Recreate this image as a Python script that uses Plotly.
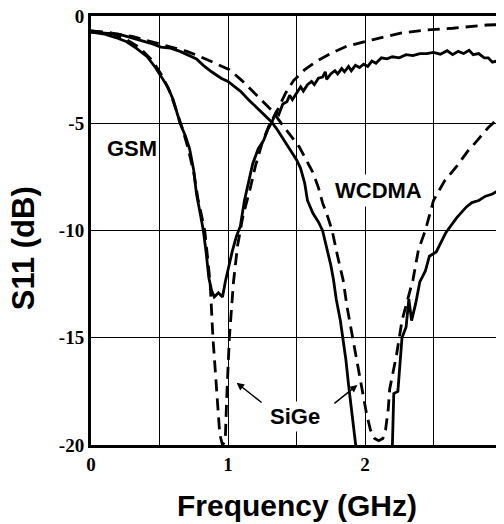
import plotly.graph_objects as go

# GSM, measured (solid)
gsm_meas_f = [0.00, 0.10, 0.20, 0.26, 0.33, 0.41, 0.47, 0.51, 0.56, 0.60, 0.63, 0.65, 0.69, 0.72, 0.75,
              0.77, 0.80, 0.82, 0.84, 0.86, 0.88, 0.90, 0.93, 0.96, 0.98, 1.00, 1.03, 1.06, 1.09, 1.12,
              1.14, 1.18, 1.22, 1.26, 1.29, 1.32, 1.35, 1.37, 1.40, 1.43, 1.45, 1.47, 1.50, 1.53, 1.55,
              1.58, 1.61, 1.63, 1.66, 1.69, 1.71, 1.72, 1.75, 1.78, 1.80, 1.83, 1.85, 1.88, 1.90, 1.93,
              1.96, 1.99, 2.02, 2.05, 2.08, 2.12, 2.16, 2.20, 2.25, 2.30, 2.35, 2.40, 2.45, 2.50, 2.55,
              2.60, 2.64, 2.68, 2.72, 2.76, 2.79, 2.83, 2.87, 2.90, 2.93, 2.96, 2.98, 3.00]
gsm_meas_s11 = [-0.75, -0.85, -1.05, -1.2, -1.5, -1.9, -2.4, -2.8, -3.3, -3.9, -4.5, -5.0, -5.6, -6.2, -7.2,
                -8.3, -9.3, -10.0, -11.0, -12.2, -12.8, -13.1, -12.9, -13.1, -12.4, -11.8, -11.0, -10.3, -9.8, -8.6,
                -8.0, -6.9, -6.2, -5.8, -5.3, -4.95, -4.5, -4.6, -4.1, -4.0, -3.7, -3.9, -3.6, -3.3, -3.5,
                -3.2, -3.05, -3.2, -2.9, -2.85, -2.6, -2.95, -2.7, -2.55, -2.7, -2.45, -2.6, -2.35, -2.55, -2.3,
                -2.4, -2.25, -2.35, -2.1, -2.2, -1.95, -2.0, -1.9, -1.95, -1.8, -1.85, -1.75, -1.75, -1.7, -1.78,
                -1.62, -1.8, -1.65, -1.75, -1.6, -1.8, -1.75, -1.95, -1.95, -2.15, -2.1, -2.4, -2.2]

# WCDMA, measured (solid)
wcdma_meas_f = [0.00, 0.10, 0.20, 0.26, 0.35, 0.45, 0.51, 0.58, 0.65, 0.72, 0.77, 0.82, 0.88, 0.95, 1.00,
                1.05, 1.09, 1.15, 1.20, 1.26, 1.32, 1.36, 1.40, 1.45, 1.50, 1.53, 1.56, 1.58, 1.62, 1.66,
                1.69, 1.72, 1.75, 1.77, 1.79, 1.82, 1.84, 1.86, 1.88, 1.90, 1.93, 1.96, 2.18, 2.20, 2.21,
                2.24, 2.27, 2.30, 2.32, 2.34, 2.37, 2.40, 2.44, 2.47, 2.52, 2.59, 2.67, 2.74, 2.78, 2.83,
                2.88, 2.93, 2.98, 3.00]
wcdma_meas_s11 = [-0.75, -0.8, -0.85, -0.95, -1.1, -1.3, -1.45, -1.5, -1.65, -1.85, -2.0, -2.3, -2.6, -2.9, -3.05,
                  -3.3, -3.5, -3.9, -4.2, -4.6, -4.95, -5.3, -5.7, -6.2, -6.7, -7.1, -7.8, -8.6, -9.2, -9.6,
                  -10.0, -10.8, -11.6, -12.3, -13.2, -14.2, -15.0, -16.0, -17.2, -18.4, -20.0, -21.5, -21.5, -20.0, -17.6,
                  -17.5, -15.0, -14.5, -13.2, -14.2, -13.4, -12.4, -11.9, -11.2, -11.0, -10.1, -9.4, -8.9, -8.7, -8.6,
                  -8.4, -8.3, -8.1, -8.0]

# GSM, SiGe (dashed)
gsm_sige_f = [0.00, 0.15, 0.26, 0.35, 0.45, 0.52, 0.58, 0.63, 0.67, 0.71, 0.75, 0.78, 0.81, 0.83, 0.85,
              0.87, 0.89, 0.92, 0.94, 0.96, 0.98, 0.99, 1.01, 1.04, 1.07, 1.11, 1.16, 1.20, 1.25, 1.30,
              1.36, 1.42, 1.48, 1.56, 1.65, 1.75, 1.87, 2.06, 2.26, 2.45, 2.64, 2.89, 3.00]
gsm_sige_s11 = [-0.7, -0.8, -1.1, -1.45, -2.1, -2.8, -3.6, -4.5, -5.3, -6.2, -7.3, -8.5, -9.5, -10.0, -11.2,
                -12.5, -15.0, -17.5, -19.5, -20.0, -19.8, -17.9, -15.0, -12.4, -10.7, -9.3, -8.1, -7.0, -5.9, -5.1,
                -4.4, -3.6, -3.0, -2.5, -2.1, -1.75, -1.4, -1.1, -0.8, -0.65, -0.57, -0.42, -0.4]

# WCDMA, SiGe (dashed)
wcdma_sige_f = [0.00, 0.15, 0.30, 0.45, 0.60, 0.70, 0.80, 0.90, 1.01, 1.10, 1.23, 1.32, 1.40, 1.46, 1.52,
                1.57, 1.62, 1.66, 1.69, 1.73, 1.76, 1.80, 1.84, 1.87, 1.91, 1.95, 1.98, 2.01, 2.04, 2.07,
                2.10, 2.13, 2.15, 2.17, 2.18, 2.21, 2.23, 2.27, 2.31, 2.35, 2.39, 2.44, 2.50, 2.58, 2.67,
                2.75, 2.82, 2.90, 2.96, 3.00]
wcdma_sige_s11 = [-0.7, -0.8, -0.95, -1.2, -1.45, -1.65, -1.9, -2.2, -2.5, -3.0, -3.8, -4.4, -5.1, -5.6, -6.1,
                  -6.7, -7.3, -8.0, -8.7, -9.4, -10.0, -11.2, -12.3, -13.6, -15.0, -16.3, -17.4, -18.5, -19.3, -19.7,
                  -19.8, -19.7, -19.3, -18.3, -17.4, -16.5, -15.8, -14.2, -13.2, -12.3, -10.9, -10.0, -8.6, -7.7, -7.0,
                  -6.3, -5.8, -5.2, -4.85, -4.6]

x_tickvals = [0, 0.5, 1, 1.5, 2, 2.5, 3]
x_ticktext = ["<b>0</b>", "", "<b>1</b>", "", "<b>2</b>", "", "<b>3</b>"]
y_tickvals = [0, -5, -10, -15, -20]
y_ticktext = ["<b>0</b>", "<b>-5</b>", "<b>-10</b>", "<b>-15</b>", "<b>-20</b>"]
y_minor = [-2.5, -7.5, -12.5, -17.5]

LW = 2.8
DASH = "12px,7px"

fig = go.Figure()
fig.add_trace(go.Scatter(x=gsm_meas_f, y=gsm_meas_s11, mode="lines",
                         line=dict(color="black", width=LW)))
fig.add_trace(go.Scatter(x=wcdma_meas_f, y=wcdma_meas_s11, mode="lines",
                         line=dict(color="black", width=LW)))
fig.add_trace(go.Scatter(x=gsm_sige_f, y=gsm_sige_s11, mode="lines",
                         line=dict(color="black", width=LW, dash=DASH)))
fig.add_trace(go.Scatter(x=wcdma_sige_f, y=wcdma_sige_s11, mode="lines",
                         line=dict(color="black", width=LW, dash=DASH)))

label_font = dict(family="Arial, Liberation Sans, sans-serif", size=22, color="black")
tick_font = dict(family="Times New Roman, Liberation Serif, serif", size=19, color="black")

annotations = [
    dict(x=0.3, y=-6.2, xref="x", yref="y", text="<b>GSM</b>", showarrow=False, font=label_font),
    dict(x=2.1, y=-8.15, xref="x", yref="y", text="<b>WCDMA</b>", showarrow=False, font=label_font,
         bgcolor="white", borderpad=3),
    dict(x=1.49, y=-18.65, xref="x", yref="y", text="<b>SiGe</b>", showarrow=False, font=label_font,
         bgcolor="white", borderpad=2),
    dict(x=1.063, y=-17.1, ax=1.267, ay=-18.13, xref="x", yref="y", axref="x", ayref="y",
         text=" ", showarrow=True, arrowhead=2, arrowsize=1, arrowwidth=1.5, arrowcolor="black", standoff=0),
    dict(x=1.945, y=-17.2, ax=1.755, ay=-18.17, xref="x", yref="y", axref="x", ayref="y",
         text=" ", showarrow=True, arrowhead=2, arrowsize=1, arrowwidth=1.5, arrowcolor="black", standoff=0),
    dict(x=0.5, y=-0.14, xref="paper", yref="paper", xanchor="center", yanchor="middle",
         text="<b>Frequency (GHz)</b>", showarrow=False,
         font=dict(family="Arial, Liberation Sans, sans-serif", size=30, color="black")),
    dict(x=-0.165, y=0.459, xref="paper", yref="paper", xanchor="center", yanchor="middle",
         text="<b>S11 (dB)</b>", showarrow=False, textangle=-90,
         font=dict(family="Arial, Liberation Sans, sans-serif", size=31, color="black")),
]

# the page body adds an 8px offset; figure size and margins compensate for it
fig.update_layout(
    width=496, height=516,
    margin=dict(l=83, r=2, t=8, b=79, autoexpand=False),
    paper_bgcolor="white", plot_bgcolor="white",
    showlegend=False,
    annotations=annotations,
    xaxis=dict(range=[0, 3], tickmode="array", tickvals=x_tickvals, ticktext=x_ticktext,
               showgrid=True, gridcolor="black", gridwidth=1.2, zeroline=False,
               showline=True, linecolor="black", linewidth=3, mirror=True, automargin=False,
               ticks="", tickfont=tick_font, ticklabeloverflow="allow"),
    yaxis=dict(range=[-20, 0], tickmode="array", tickvals=y_tickvals, ticktext=y_ticktext,
               showgrid=True, gridcolor="black", gridwidth=1.2, zeroline=False,
               showline=True, linecolor="black", linewidth=3, mirror=True, automargin=False,
               ticks="", tickfont=tick_font, ticklabeloverflow="allow"),
    yaxis2=dict(range=[-20, 0], overlaying="y", side="left", tickmode="array", tickvals=y_minor,
                ticks="inside", ticklen=5, tickwidth=2, tickcolor="black", mirror="ticks",
                showticklabels=False, showgrid=False, zeroline=False, showline=False, automargin=False),
)

fig.write_html("out.html")
